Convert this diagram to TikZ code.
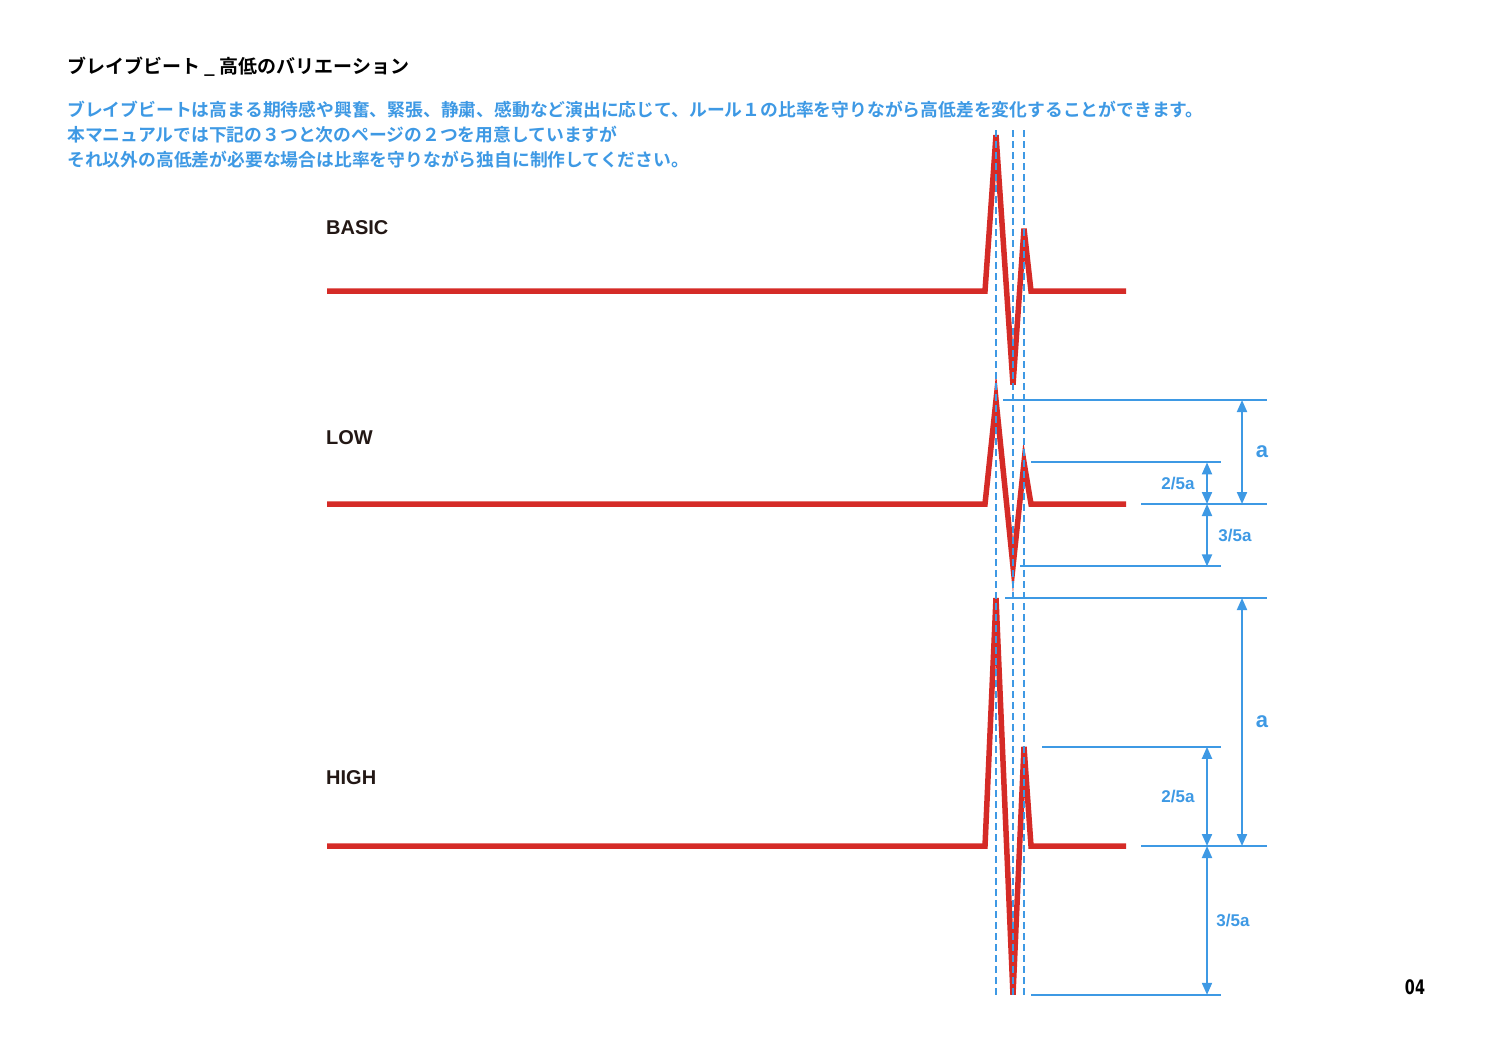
\documentclass[tikz,border=0pt]{standalone}
\usepackage{fontspec}
\setmainfont{Liberation Sans}[BoldFont={Liberation Sans Bold}]
\newfontfamily\jpfont{Noto Sans CJK JP}[BoldFont={Noto Sans CJK JP Bold}]
\newfontfamily\pagefont{DejaVu Sans}[BoldFont={DejaVu Sans Bold}]
\definecolor{bbRed}{HTML}{D52B27}
\definecolor{bbBlue}{HTML}{3E99E4}
\definecolor{bbInk}{HTML}{231815}
\usetikzlibrary{arrows.meta}

\begin{document}
\begin{tikzpicture}[x=1pt, y=-1pt,
  every node/.style={inner sep=0pt},
  heading/.style={anchor=west, font=\jpfont\bfseries\fontsize{19}{19}\selectfont, text=black},
  lead/.style={anchor=west, align=left, font=\jpfont\bfseries\fontsize{17.8}{25}\selectfont, text=bbBlue},
  beatname/.style={anchor=west, font=\bfseries\fontsize{20}{20}\selectfont, text=bbInk},
  beat/.style={draw=bbRed, line width=5.5pt},
  guide/.style={draw=bbBlue, line width=2.2pt, dash pattern=on 7pt off 4pt},
  refline/.style={draw=bbBlue, line width=2pt},
  dim/.style={draw=bbBlue, line width=2pt,
              {Triangle[length=12pt,width=10pt]}-{Triangle[length=12pt,width=10pt]}},
  dimlabel/.style={font=\bfseries\fontsize{17}{17}\selectfont, text=bbBlue},
  alabel/.style={font=\bfseries\fontsize{22}{22}\selectfont, text=bbBlue}
]
  \useasboundingbox (0,0) rectangle (1489,1052);

  \node[heading] (title) at (67,67) {ブレイブビート \_ 高低のバリエーション};
  \node[lead] (intro) at (67,135)
    {ブレイブビートは高まる期待感や興奮、緊張、静粛、感動など演出に応じて、ルール１の比率を守りながら高低差を変化することができます。\\
     本マニュアルでは下記の３つと次のページの２つを用意していますが\\
     それ以外の高低差が必要な場合は比率を守りながら独自に制作してください。};

  % beats: name / label / baseline / height a / label y
  \foreach \nm/\lbl/\base/\amp/\ly in {basic/BASIC/291/156/228, low/LOW/504/104/438, high/HIGH/846/248/778} {
    \node[beatname] (\nm-name) at (326,\ly) {\lbl};
    \coordinate (\nm-start) at (327,\base);
    \coordinate (\nm-rise)  at (985,\base);
    \coordinate (\nm-peak)  at (996,{\base-\amp});
    \coordinate (\nm-dip)   at (1013,{\base+0.6*\amp});
    \coordinate (\nm-echo)  at (1024,{\base-0.4*\amp});
    \coordinate (\nm-fall)  at (1031,\base);
    \coordinate (\nm-end)   at (1126,\base);
    \draw[beat] (\nm-start) -- (\nm-rise) -- (\nm-peak) -- (\nm-dip)
      -- (\nm-echo) -- (\nm-fall) -- (\nm-end);
  }

  % dashed guides through the turning points
  \foreach \gx [count=\i] in {996,1013,1024} {
    \coordinate (guide\i-top) at (\gx,130);
    \coordinate (guide\i-bot) at (\gx,995);
    \draw[guide] (guide\i-top) -- (guide\i-bot);
  }

  % dimensions: name / baseline / a / left ends of top, 2/5 and bottom lines / 3/5a label x
  \foreach \nm/\base/\amp/\tx/\mx/\bx/\lx in {low/504/104/1003/1031/1020/1235, high/846/248/1005/1042/1031/1233} {
    \coordinate (\nm-topL) at (\tx,{\base-\amp});
    \coordinate (\nm-topR) at (1267,{\base-\amp});
    \coordinate (\nm-midL) at (\mx,{\base-0.4*\amp});
    \coordinate (\nm-midR) at (1221,{\base-0.4*\amp});
    \coordinate (\nm-baseL) at (1141,\base);
    \coordinate (\nm-baseR) at (1267,\base);
    \coordinate (\nm-botL) at (\bx,{\base+0.6*\amp});
    \coordinate (\nm-botR) at (1221,{\base+0.6*\amp});
    \draw[refline] (\nm-topL) -- (\nm-topR);
    \draw[refline] (\nm-midL) -- (\nm-midR);
    \draw[refline] (\nm-baseL) -- (\nm-baseR);
    \draw[refline] (\nm-botL) -- (\nm-botR);
    \coordinate (\nm-aT) at (1242,{\base-\amp});
    \coordinate (\nm-aB) at (1242,\base);
    \coordinate (\nm-sT) at (1207,{\base-0.4*\amp});
    \coordinate (\nm-sM) at (1207,\base);
    \coordinate (\nm-sB) at (1207,{\base+0.6*\amp});
    \draw[dim] (\nm-aT) -- (\nm-aB);
    \draw[dim] (\nm-sT) -- (\nm-sM);
    \draw[dim] (\nm-sM) -- (\nm-sB);
    \node[alabel] (\nm-a) at (1262,{\base-0.5*\amp}) {a};
    \node[dimlabel] (\nm-two) at (1178,{\base-0.2*\amp}) {2/5a};
    \node[dimlabel] (\nm-three) at (\lx,{\base+0.3*\amp}) {3/5a};
  }

  \node[font=\pagefont\bfseries\fontsize{20}{20}\selectfont] (page) at (1415,987) {\scalebox{0.72}[1]{04}};
\end{tikzpicture}
\end{document}
